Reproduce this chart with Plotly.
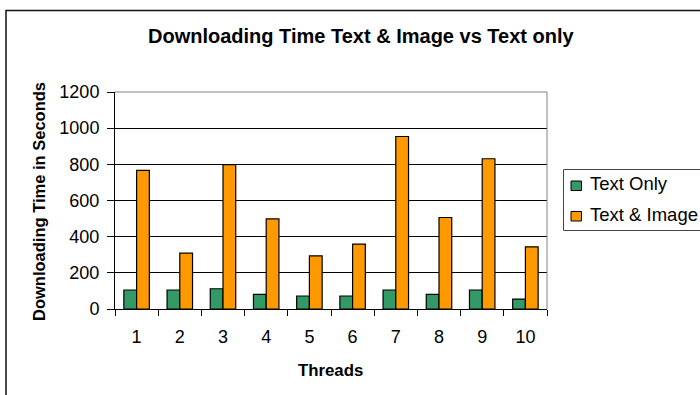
import plotly.graph_objects as go

# Downloading times (seconds) per thread count
threads = ["1", "2", "3", "4", "5", "6", "7", "8", "9", "10"]
text_only = [105, 105, 112, 81, 72, 72, 105, 81, 105, 55]
text_and_image = [767, 309, 798, 498, 294, 359, 954, 506, 831, 344]

series_names = ["Text Only", "Text & Image"]
series_colors = ["#339966", "#FF9900"]
y_ticks = [0, 200, 400, 600, 800, 1000, 1200]

FONT = "Liberation Sans, Arial, sans-serif"
W, H = 700, 395
L, R, T, B = 115, 153, 92, 86
PW, PH = W - L - R, H - T - B


def fx(p):
    """pixel x -> paper x"""
    return (p - L) / PW


def fy(p):
    """pixel y -> paper y"""
    return (H - B - p) / PH


fig = go.Figure()
for name, vals, col in zip(series_names, [text_only, text_and_image], series_colors):
    fig.add_trace(go.Bar(
        x=threads, y=vals, name=name,
        marker=dict(color=col, line=dict(color="#000000", width=1.2)),
        showlegend=False,
    ))

shapes = [
    # outer chart frame
    dict(type="rect", xref="paper", yref="paper",
         x0=fx(6), x1=fx(730), y0=fy(10.5), y1=fy(430),
         line=dict(color="#111111", width=1.5), layer="below"),
    # plot area frame: top and right edges
    dict(type="line", xref="paper", yref="paper", x0=0, x1=1, y0=1, y1=1,
         line=dict(color="#808080", width=1), layer="above"),
    dict(type="line", xref="paper", yref="paper", x0=1, x1=1, y0=0, y1=1,
         line=dict(color="#808080", width=1), layer="above"),
    # legend box
    dict(type="rect", xref="paper", yref="paper",
         x0=fx(563.5), x1=fx(730), y0=fy(169.5), y1=fy(230.5),
         line=dict(color="#444444", width=1), fillcolor="rgba(0,0,0,0)"),
]

annotations = [
    dict(text="<b>Downloading Time Text & Image vs Text only</b>",
         xref="paper", yref="paper", x=fx(361), y=fy(36.5),
         xanchor="center", yanchor="middle", showarrow=False,
         font=dict(family=FONT, size=20, color="#000000")),
    dict(text="<b>Downloading Time in Seconds</b>",
         xref="paper", yref="paper", x=fx(39), y=fy(202),
         xanchor="center", yanchor="middle", showarrow=False, textangle=-90,
         font=dict(family=FONT, size=16.5, color="#000000")),
    dict(text="<b>Threads</b>",
         xref="paper", yref="paper", x=fx(330), y=fy(370),
         xanchor="center", yanchor="middle", showarrow=False,
         font=dict(family=FONT, size=16.8, color="#000000")),
]

# legend entries
legend_rows = [183.5, 214]
for name, col, yc in zip(series_names, series_colors, legend_rows):
    shapes.append(dict(type="rect", xref="paper", yref="paper",
                       x0=fx(571), x1=fx(581.5), y0=fy(yc - 2.5), y1=fy(yc + 7),
                       line=dict(color="#000000", width=1), fillcolor=col))
    annotations.append(dict(text=name, xref="paper", yref="paper",
                            x=fx(587.5), y=fy(yc), xanchor="left", yanchor="middle",
                            showarrow=False,
                            font=dict(family=FONT, size=18.5, color="#000000")))

fig.update_layout(
    width=W, height=H,
    margin=dict(l=L, r=R, t=T, b=B, pad=0),
    paper_bgcolor="#FFFFFF", plot_bgcolor="#FFFFFF",
    barmode="group", bargap=0.41, bargroupgap=0,
    font=dict(family=FONT, color="#000000"),
    shapes=shapes, annotations=annotations,
    showlegend=False,
)
fig.update_xaxes(
    type="category", categoryorder="array", categoryarray=threads,
    showline=True, linecolor="#000000", linewidth=1,
    ticks="outside", tickson="boundaries", ticklen=6, tickcolor="#000000",
    tickfont=dict(family=FONT, size=18, color="#000000"),
    ticklabelstandoff=11, showgrid=False, zeroline=False,
)
fig.update_yaxes(
    range=[0, 1200], tickvals=y_ticks,
    showline=True, linecolor="#000000", linewidth=1,
    ticks="outside", ticklen=7, tickcolor="#000000",
    tickfont=dict(family=FONT, size=18, color="#000000"),
    ticklabelstandoff=4,
    showgrid=True, gridcolor="#000000", gridwidth=1, zeroline=False,
)

fig.write_html("out.html", config={"displayModeBar": False})
